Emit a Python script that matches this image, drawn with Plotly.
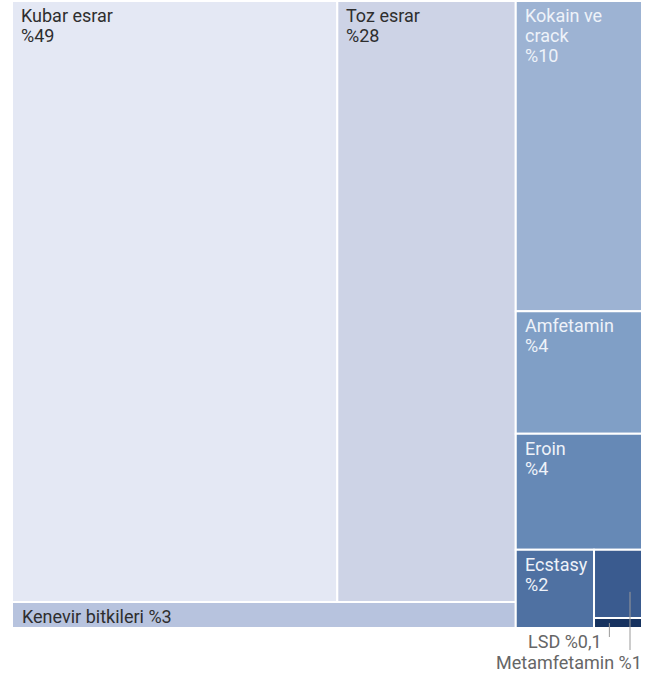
import plotly.graph_objects as go

# ---- data ----
categories = ["Kubar esrar", "Toz esrar", "Kenevir bitkileri", "Kokain ve crack",
              "Amfetamin", "Eroin", "Ecstasy", "Metamfetamin", "LSD"]
values = [49.4, 27.1, 3.3, 9.9, 3.9, 3.7, 1.55, 0.83, 0.12]
pct_labels = ["%49", "%28", "%3", "%10", "%4", "%4", "%2", "%1", "%0,1"]
label_text = ["Kubar esrar<br>%49", "Toz esrar<br>%28", "Kenevir bitkileri %3",
              "Kokain ve<br>crack<br>%10", "Amfetamin<br>%4", "Eroin<br>%4",
              "Ecstasy<br>%2", "Metamfetamin %1", "LSD %0,1"]
colors = ["#e4e8f4", "#cdd3e6", "#b7c3de", "#9db3d3", "#809fc6", "#6689b6",
          "#4f71a2", "#3a5b8f", "#16325f"]
text_colors = ["#2e2e2e", "#2e2e2e", "#2e2e2e", "#eef2f9", "#eef2f9", "#eef2f9",
               "#eef2f9", "#eef2f9", "#eef2f9"]
# nesting (alternating dice / slice by depth)
tree = [[[0, 1], 2], [3, 4, 5, [6, [7, 8]]]]

W, H = 655, 679
ML, MR, MT = 12, 13, 1
PLOT_H_CELLS = 627  # pixel height of the treemap block
PH = H - MT
Y_MAX = PH / PLOT_H_CELLS  # y range in cell units (cells occupy 0..1)


def total(node):
    return values[node] if isinstance(node, int) else sum(total(c) for c in node)


rects = {}


def layout_node(node, x0, y0, x1, y1, depth):
    if isinstance(node, int):
        rects[node] = (x0, y0, x1, y1)
        return
    t = total(node)
    pos = x0 if depth % 2 == 0 else y0
    for c in node:
        f = total(c) / t
        if depth % 2 == 0:
            w = (x1 - x0) * f
            layout_node(c, pos, y0, pos + w, y1, depth + 1)
            pos += w
        else:
            h = (y1 - y0) * f
            layout_node(c, x0, pos, x1, pos + h, depth + 1)
            pos += h


layout_node(tree, 0, 0, 1, 1, 0)

px_y = 1 / PLOT_H_CELLS

fig = go.Figure()
fig.add_trace(go.Scatter(x=[0, 1], y=[0, 1], mode="markers",
                         marker=dict(opacity=0), hoverinfo="skip", showlegend=False))

shapes = []
annotations = []
FONT = "Roboto"
FS = 18
LS = 20  # line spacing in px
for i, name in enumerate(categories):
    x0, y0, x1, y1 = rects[i]
    shapes.append(dict(type="rect", xref="x", yref="y", x0=x0, x1=x1, y0=y0, y1=y1,
                       fillcolor=colors[i], line=dict(color="white", width=2), layer="below"))
    if name in ("LSD", "Metamfetamin"):
        continue
    if name == "Kenevir bitkileri":
        annotations.append(dict(x=x0, y=(y0 + y1) / 2, xref="x", yref="y", text=label_text[i],
                                xanchor="left", yanchor="middle", align="left", showarrow=False,
                                xshift=8, yshift=-1,
                                font=dict(family=FONT, size=FS, color=text_colors[i])))
    else:
        for k, line in enumerate(label_text[i].split("<br>")):
            annotations.append(dict(x=x0, y=y0, xref="x", yref="y", text=line,
                                    xanchor="left", yanchor="top", align="left", showarrow=False,
                                    xshift=7, yshift=-2 - k * LS,
                                    font=dict(family=FONT, size=FS, color=text_colors[i])))

# callouts for small cells
idx_lsd = categories.index("LSD")
idx_meta = categories.index("Metamfetamin")
lx0, ly0, lx1, ly1 = rects[idx_lsd]
mx0, my0, mx1, my1 = rects[idx_meta]
lsd_x = lx0 + (lx1 - lx0) * 0.32
meta_x = mx0 + (mx1 - mx0) * 0.75
shapes.append(dict(type="line", xref="x", yref="y", x0=lsd_x, x1=lsd_x,
                   y0=(ly0 + ly1) / 2, y1=1 + 9 * px_y, line=dict(color="#9a9a9a", width=1)))
shapes.append(dict(type="line", xref="x", yref="y", x0=meta_x, x1=meta_x,
                   y0=(my0 + my1) / 2 + 8 * px_y, y1=1 + 22 * px_y, line=dict(color="#9a9a9a", width=1)))
annotations.append(dict(x=lsd_x, y=1 + 13 * px_y, xref="x", yref="y", text=label_text[idx_lsd],
                        xanchor="right", yanchor="middle", showarrow=False, xshift=-5,
                        font=dict(family=FONT, size=FS, color="#666666")))
annotations.append(dict(x=mx1, y=1 + 34 * px_y, xref="x", yref="y", text=label_text[idx_meta],
                        xanchor="right", yanchor="middle", showarrow=False, xshift=2,
                        font=dict(family=FONT, size=FS, color="#666666")))

fig.update_layout(
    width=W, height=H,
    margin=dict(l=ML, r=MR, t=MT, b=0, pad=0),
    paper_bgcolor="white", plot_bgcolor="white",
    xaxis=dict(range=[0, 1], visible=False, fixedrange=True),
    yaxis=dict(range=[Y_MAX, 0], visible=False, fixedrange=True),
    shapes=shapes, annotations=annotations, showlegend=False,
)
fig.write_html("out.html", config={"displayModeBar": False},
               post_script="document.body.style.margin='0';")
